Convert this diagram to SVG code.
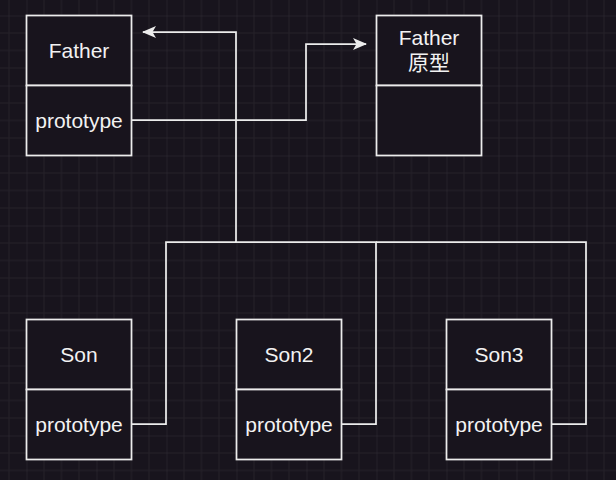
<svg xmlns="http://www.w3.org/2000/svg" width="616" height="480" viewBox="0 0 616 480">
<style>
.box{fill:#18141d;stroke:#ececec;stroke-width:1.75}
.t{font-family:"Liberation Sans",Arial,"Noto Sans CJK SC",sans-serif;font-size:21px;fill:#f2f2f2;text-anchor:middle}
.c{fill:none;stroke:#ececec;stroke-width:1.75}
</style>
<defs>
<pattern id="g" x="26.5" y="15.5" width="70" height="70" patternUnits="userSpaceOnUse">
<path d="M17.5 0V70M35 0V70M52.5 0V70M0 17.5H70M0 35H70M0 52.5H70" stroke="#252129" stroke-width="1" fill="none"/>
<path d="M0 0V70M0 0H70" stroke="#312d35" stroke-width="1" fill="none"/>
</pattern>
<marker id="a" viewBox="0 0 14 12" refX="13" refY="6" markerWidth="14" markerHeight="12" markerUnits="userSpaceOnUse" orient="auto">
<path d="M0 0L14 6L0 12L3.5 6Z" fill="#ececec"/>
</marker>
</defs>
<rect width="616" height="480" fill="#18141d"/>
<rect width="616" height="480" fill="url(#g)"/>
<g id="connectors">
<path class="c" d="M131 120H306V44H366" marker-end="url(#a)"/>
<path class="c" d="M131 424H166V242H236V32H143" marker-end="url(#a)"/>
<path class="c" d="M341 424H376V242H236"/>
<path class="c" d="M551 424H586V242H376"/>
</g>
<g id="father">
<rect class="box" x="26.5" y="15.5" width="105" height="70"/>
<rect class="box" x="26.5" y="85.5" width="105" height="70"/>
<text class="t" x="79" y="57.5">Father</text>
<text class="t" x="79" y="127.5">prototype</text>
</g>
<g id="father-proto">
<rect class="box" x="376.5" y="15.5" width="105" height="70"/>
<rect class="box" x="376.5" y="85.5" width="105" height="70"/>
<text class="t" x="429" y="45">Father</text>
<text class="t" x="429" y="70">原型</text>
</g>
<g id="son">
<rect class="box" x="26.5" y="319.5" width="105" height="70"/>
<rect class="box" x="26.5" y="389.5" width="105" height="70"/>
<text class="t" x="79" y="361.5">Son</text>
<text class="t" x="79" y="431.5">prototype</text>
</g>
<g id="son2">
<rect class="box" x="236.5" y="319.5" width="105" height="70"/>
<rect class="box" x="236.5" y="389.5" width="105" height="70"/>
<text class="t" x="289" y="361.5">Son2</text>
<text class="t" x="289" y="431.5">prototype</text>
</g>
<g id="son3">
<rect class="box" x="446.5" y="319.5" width="105" height="70"/>
<rect class="box" x="446.5" y="389.5" width="105" height="70"/>
<text class="t" x="499" y="361.5">Son3</text>
<text class="t" x="499" y="431.5">prototype</text>
</g>
</svg>
